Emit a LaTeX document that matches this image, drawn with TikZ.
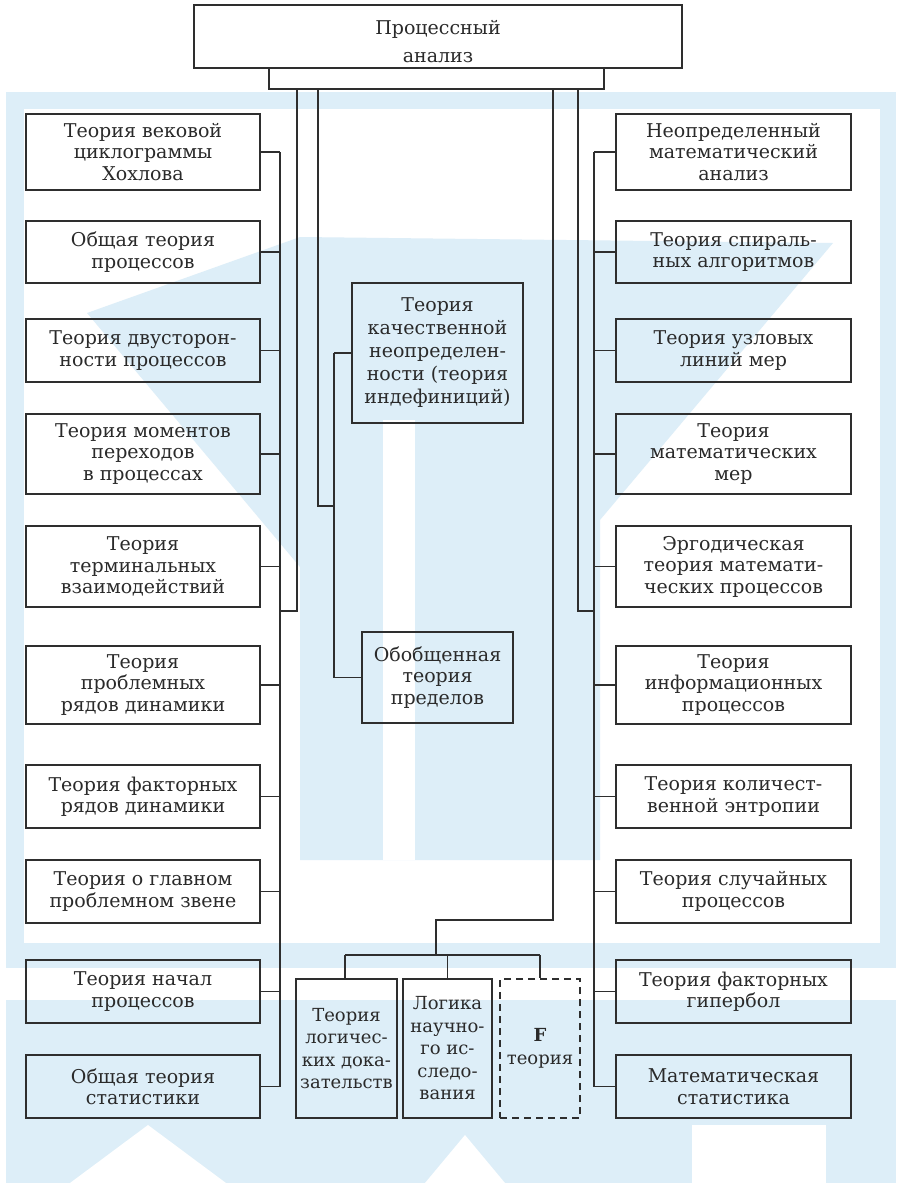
\documentclass[tikz,border=0pt]{standalone}
\usepackage{fontspec}
\setmainfont{DejaVu Serif}
\definecolor{inkc}{HTML}{2E2E2E}
\definecolor{textc}{HTML}{2A2A2A}
\definecolor{wmark}{HTML}{DDEEF8}
\begin{document}
\begin{tikzpicture}[x=1pt,y=-1pt,
  box/.style={draw=inkc, line width=1.9pt, align=center, text=textc,
    inner sep=0pt, font=\fontsize{19}{21.5}\selectfont},
  lbox/.style={box, minimum width=234pt},
  rbox/.style={box, minimum width=235pt},
  tallbox/.style={box, font=\fontsize{19}{23}\selectfont},
  narrowbox/.style={box, font=\fontsize{18}{22.5}\selectfont},
  dashbox/.style={narrowbox, dash pattern=on 7pt off 5pt},
  plain/.style={align=center, text=textc, inner sep=0pt},
  link/.style={draw=inkc, line width=1.3pt}]
\useasboundingbox (0,0) rectangle (911,1183);
\fill[white] (0,0) rectangle (911,1183);

% pale background print
\begin{scope}[fill=wmark]
  \fill (6,92) rectangle (896,109);
  \fill (6,92) rectangle (24,968);
  \fill (880,92) rectangle (896,968);
  \fill (6,943) rectangle (896,968);
  \fill (87,313) -- (300,237) -- (833,243) -- (600,520) -- (600,860)
        -- (300,860) -- (300,567) -- cycle;
  \fill (6,1000) rectangle (896,1183);
\end{scope}
\begin{scope}[fill=white]
  \fill (383,420) rectangle (415,860);
  \fill (425,1183) -- (465,1135) -- (505,1183) -- cycle;
  \fill (692,1125) rectangle (826,1183);
  \fill (70,1183) -- (148,1125) -- (226,1183) -- cycle;
\end{scope}

% root
\node[box, line width=2.4pt, minimum width=488pt, minimum height=63pt] (root) at (438,36.5) {};
\node[plain, font=\fontsize{19}{28}\selectfont] (rootlabel) at (438,41.5) {Процессный\\анализ};

% left column
\node[lbox, minimum height=76pt] (L1) at (143,152)   {Теория вековой\\циклограммы\\Хохлова};
\node[lbox, minimum height=62pt] (L2) at (143,252)   {Общая теория\\процессов};
\node[lbox, minimum height=63pt] (L3) at (143,350.5) {Теория двусторон-\\ности процессов};
\node[lbox, minimum height=80pt] (L4) at (143,454)   {Теория моментов\\переходов\\в процессах};
\node[lbox, minimum height=81pt] (L5) at (143,566.5) {Теория\\терминальных\\взаимодействий};
\node[lbox, minimum height=78pt] (L6) at (143,685)   {Теория\\проблемных\\рядов динамики};
\node[lbox, minimum height=63pt] (L7) at (143,796.5) {Теория факторных\\рядов динамики};
\node[lbox, minimum height=63pt] (L8) at (143,891.5) {Теория о главном\\проблемном звене};
\node[lbox, minimum height=63pt] (L9) at (143,991.5) {Теория начал\\процессов};
\node[lbox, minimum height=63pt] (L10) at (143,1086.5) {Общая теория\\статистики};

% right column
\node[rbox, minimum height=76pt] (R1) at (733.5,152)   {Неопределенный\\математический\\анализ};
\node[rbox, minimum height=62pt] (R2) at (733.5,252)   {Теория спираль-\\ных алгоритмов};
\node[rbox, minimum height=63pt] (R3) at (733.5,350.5) {Теория узловых\\линий мер};
\node[rbox, minimum height=80pt] (R4) at (733.5,454)   {Теория\\математических\\мер};
\node[rbox, minimum height=81pt] (R5) at (733.5,566.5) {Эргодическая\\теория математи-\\ческих процессов};
\node[rbox, minimum height=78pt] (R6) at (733.5,685)   {Теория\\информационных\\процессов};
\node[rbox, minimum height=63pt] (R7) at (733.5,796.5) {Теория количест-\\венной энтропии};
\node[rbox, minimum height=63pt] (R8) at (733.5,891.5) {Теория случайных\\процессов};
\node[rbox, minimum height=63pt] (R9) at (733.5,991.5) {Теория факторных\\гипербол};
\node[rbox, minimum height=63pt] (R10) at (733.5,1086.5) {Математическая\\статистика};

% middle column
\node[tallbox, minimum width=171pt, minimum height=140pt] (M1) at (437.5,353)
  {Теория\\качественной\\неопределен-\\ности (теория\\индефиниций)};
\node[box, minimum width=151pt, minimum height=91pt] (M2) at (437.5,677.5)
  {Обобщенная\\теория\\пределов};

% bottom group
\node[narrowbox, minimum width=101pt, minimum height=139pt] (B1) at (346.5,1048.5)
  {Теория\\логичес-\\ких дока-\\зательств};
\node[narrowbox, minimum width=89pt, minimum height=139pt] (B2) at (447.5,1048.5)
  {Логика\\научно-\\го ис-\\следо-\\вания};
\node[dashbox, minimum width=80pt, minimum height=139pt] (B3) at (540,1048.5)
  {\textbf{F}\\теория};

% junction points
\coordinate (ta) at (269,89);
\coordinate (tb) at (604,89);
\coordinate (lbusT) at (280,152);
\coordinate (lbusB) at (280,1086.5);
\coordinate (rbusT) at (594,152);
\coordinate (rbusB) at (594,1086.5);
\coordinate (mbusT) at (334,353);
\coordinate (mbusB) at (334,677.5);
\coordinate (bbusL) at (345,955);
\coordinate (bbusR) at (540,955);

% bracket under the root box
\draw[link] (ta |- root.south) -- (ta) -- (tb) -- (tb |- root.south);

% trunk lines
\draw[link] (297,89) -- (297,611) -- (280,611);
\draw[link] (578,89) -- (578,611) -- (594,611);
\draw[link] (318,89) -- (318,506) -- (334,506);
\draw[link] (553,89) -- (553,920) -- (436,920) -- (436,955);

% buses
\draw[link] (lbusT) -- (lbusB);
\draw[link] (rbusT) -- (rbusB);
\draw[link] (mbusT) -- (mbusB);
\draw[link] (bbusL) -- (bbusR);

% branches
\foreach \i in {1,...,10} {
  \draw[link] (L\i.east) -- (L\i.east -| lbusT);
  \draw[link] (R\i.west) -- (R\i.west -| rbusT);
}
\draw[link] (mbusT) -- (M1.west);
\draw[link] (mbusB) -- (M2.west);
\draw[link] (bbusL) -- (bbusL |- B1.north);
\draw[link] (B2.north |- bbusL) -- (B2.north);
\draw[link] (bbusR) -- (bbusR |- B3.north);
\end{tikzpicture}
\end{document}
